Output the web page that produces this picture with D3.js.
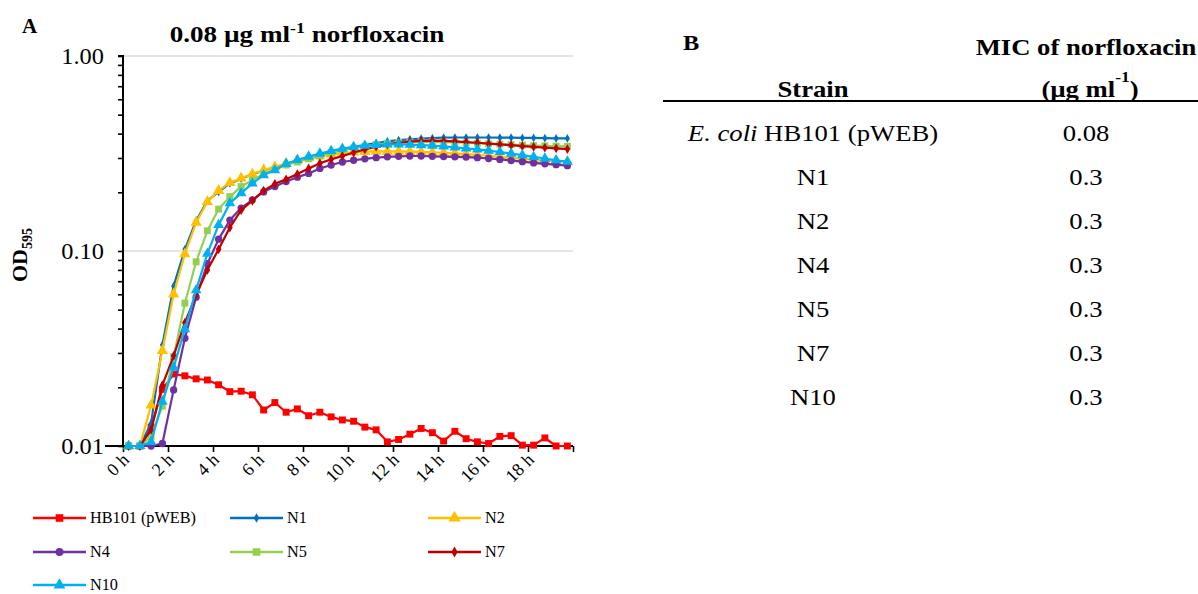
<!DOCTYPE html>
<html>
<head>
<meta charset="utf-8">
<script src="https://cdn.jsdelivr.net/npm/d3@7"></script>
<style>
  body { margin: 0; background: #fff; }
  text { font-family: "Liberation Serif", "Times New Roman", Times, serif; }
</style>
</head>
<body>
<div id="chart"></div>
<script>
// sampling times (h), one every 30 min
const hours = [0, 0.5, 1, 1.5, 2, 2.5, 3, 3.5, 4, 4.5, 5, 5.5, 6, 6.5, 7, 7.5, 8, 8.5, 9, 9.5,
  10, 10.5, 11, 11.5, 12, 12.5, 13, 13.5, 14, 14.5, 15, 15.5, 16, 16.5, 17, 17.5, 18, 18.5, 19, 19.5];
const tickHours = [0, 2, 4, 6, 8, 10, 12, 14, 16, 18, 20];
const tickLabels = ["0 h", "2 h", "4 h", "6 h", "8 h", "10 h", "12 h", "14 h", "16 h", "18 h", ""];

const hb101 = [0.01, 0.01, 0.0125, 0.0195, 0.0234, 0.0229, 0.0221, 0.0218, 0.0206, 0.019, 0.0191, 0.0183, 0.0153, 0.0167, 0.0149, 0.0155, 0.0143, 0.0149, 0.0141, 0.0136,
  0.0134, 0.0125, 0.0121, 0.0105, 0.0108, 0.0115, 0.0123, 0.0117, 0.0106, 0.0119, 0.0109, 0.0105, 0.0103, 0.0112, 0.0113, 0.0101, 0.0101, 0.011, 0.01, 0.01];
const n1 = [0.01, 0.01, 0.0131, 0.033, 0.066, 0.102, 0.143, 0.181, 0.201, 0.222, 0.235, 0.248, 0.258, 0.269, 0.279, 0.291, 0.303, 0.312, 0.322, 0.332,
  0.341, 0.35, 0.358, 0.365, 0.37, 0.374, 0.377, 0.379, 0.381, 0.382, 0.382, 0.382, 0.382, 0.381, 0.381, 0.38, 0.38, 0.379, 0.378, 0.378];
const n2 = [0.01, 0.01, 0.0162, 0.0308, 0.06, 0.0966, 0.14, 0.179, 0.204, 0.224, 0.236, 0.248, 0.26, 0.27, 0.281, 0.291, 0.3, 0.307, 0.313, 0.318,
  0.321, 0.323, 0.324, 0.324, 0.324, 0.323, 0.322, 0.321, 0.319, 0.317, 0.314, 0.311, 0.308, 0.304, 0.3, 0.297, 0.294, 0.291, 0.289, 0.287];
const n4 = [0.01, 0.01, 0.01, 0.0103, 0.0194, 0.0357, 0.058, 0.086, 0.115, 0.144, 0.166, 0.183, 0.201, 0.214, 0.227, 0.239, 0.25, 0.265, 0.276, 0.286,
  0.292, 0.297, 0.301, 0.304, 0.306, 0.307, 0.307, 0.306, 0.305, 0.304, 0.303, 0.301, 0.298, 0.295, 0.291, 0.287, 0.283, 0.28, 0.277, 0.274];
const n5 = [0.01, 0.01, 0.0112, 0.016, 0.0287, 0.054, 0.088, 0.127, 0.164, 0.19, 0.214, 0.231, 0.248, 0.262, 0.276, 0.286, 0.297, 0.307, 0.318, 0.328,
  0.337, 0.345, 0.352, 0.357, 0.36, 0.362, 0.363, 0.363, 0.362, 0.361, 0.359, 0.357, 0.355, 0.353, 0.351, 0.349, 0.347, 0.346, 0.345, 0.344];
const n7 = [0.01, 0.01, 0.0121, 0.0205, 0.029, 0.0429, 0.0595, 0.08, 0.102, 0.132, 0.162, 0.181, 0.204, 0.221, 0.233, 0.248, 0.265, 0.282, 0.295, 0.307,
  0.32, 0.332, 0.343, 0.352, 0.359, 0.364, 0.367, 0.368, 0.367, 0.365, 0.362, 0.359, 0.355, 0.352, 0.349, 0.345, 0.342, 0.339, 0.336, 0.333];
const n10 = [0.01, 0.01, 0.0105, 0.0169, 0.0253, 0.0397, 0.063, 0.097, 0.136, 0.176, 0.198, 0.222, 0.245, 0.26, 0.28, 0.293, 0.305, 0.316, 0.326, 0.335,
  0.342, 0.347, 0.35, 0.352, 0.352, 0.351, 0.349, 0.347, 0.344, 0.34, 0.336, 0.332, 0.327, 0.322, 0.316, 0.31, 0.304, 0.298, 0.292, 0.287];

const seriesNames = ["HB101 (pWEB)", "N1", "N2", "N4", "N5", "N7", "N10"];
const seriesValues = [hb101, n1, n2, n4, n5, n7, n10];
const seriesColors = ["#FF0000", "#0070C0", "#FFC000", "#7030A0", "#92D050", "#C00000", "#00B0F0"];
const seriesSymbols = [d3.symbolSquare, d3.symbolDiamond, d3.symbolTriangle, d3.symbolCircle, d3.symbolSquare, d3.symbolDiamond, d3.symbolTriangle];
const symbolSizes = [48, 22, 55, 42, 48, 28, 50];

const yTicks = [0.01, 0.1, 1];
const yTickLabels = ["0.01", "0.10", "1.00"];

// table B
const strains = ["HB101 (pWEB)", "N1", "N2", "N4", "N5", "N7", "N10"];
const mic = ["0.08", "0.3", "0.3", "0.3", "0.3", "0.3", "0.3"];

const W = 1198, H = 594;
const svg = d3.select("#chart").append("svg").attr("width", W).attr("height", H);

const pLeft = 123, pRight = 573, pTop = 56, pBottom = 446;

// horizontal stretch of a text around anchor x (the source figure is wider than plain Times)
function stretch(sel, sx, ax) {
  sel.attr("transform", `translate(${ax},0) scale(${sx},1) translate(${-ax},0)`);
}

const xBand = d3.scaleBand().domain(hours).range([pLeft, pRight]).padding(0);
const xTick = d3.scaleLinear().domain([0, 20]).range([pLeft, pRight]);
const y = d3.scaleLog().domain([0.01, 1]).range([pBottom, pTop]);

// gridlines
svg.append("g").selectAll("line")
  .data(yTicks.slice(1))
  .enter().append("line")
  .attr("x1", pLeft).attr("x2", pRight)
  .attr("y1", d => y(d)).attr("y2", d => y(d))
  .attr("stroke", "#e6e6e6").attr("stroke-width", 2);

// y axis, minor ticks on every decade
const minorTicks = y.ticks();
const yAxis = d3.axisLeft(y).tickValues(minorTicks).tickSize(5).tickFormat("");
const gy = svg.append("g").attr("transform", `translate(${pLeft},0)`).call(yAxis);
gy.select(".domain").attr("stroke-width", 2).attr("d", `M-5,${pTop}H0V${pBottom}`);
gy.selectAll(".tick line").attr("stroke-width", 1.6);
svg.append("g").selectAll("text")
  .data(yTicks)
  .enter().append("text")
  .attr("x", 104).attr("y", d => y(d) + 8)
  .attr("text-anchor", "end")
  .attr("font-size", 23)
  .text((d, i) => yTickLabels[i])
  .each(function () { stretch(d3.select(this), 1.06, 104); });

// x axis
const xAxis = d3.axisBottom(xTick).tickValues(tickHours).tickSize(6).tickFormat("");
const gx = svg.append("g").attr("transform", `translate(0,${pBottom})`).call(xAxis);
gx.select(".domain").attr("stroke-width", 2).attr("d", `M${pLeft - 18},0H${pRight}`);
gx.selectAll(".tick line").attr("stroke-width", 1.6);
svg.append("g").selectAll("text")
  .data(tickHours)
  .enter().append("text")
  .attr("transform", d => `translate(${xTick(d) + 7},${pBottom + 15}) rotate(-45)`)
  .attr("text-anchor", "end")
  .attr("font-size", 18)
  .text((d, i) => tickLabels[i]);

// curves
const line = d3.line()
  .x((d, i) => xBand(hours[i]) + xBand.bandwidth() / 2)
  .y(d => y(d));

seriesValues.forEach((vals, k) => {
  const g = svg.append("g");
  g.append("path")
    .datum(vals)
    .attr("d", line)
    .attr("fill", "none")
    .attr("stroke", seriesColors[k])
    .attr("stroke-width", 2.2)
    .attr("stroke-linejoin", "round");
  g.selectAll("path.m")
    .data(vals)
    .enter().append("path")
    .attr("class", "m")
    .attr("transform", (d, i) => `translate(${xBand(hours[i]) + xBand.bandwidth() / 2},${y(d)})`)
    .attr("d", d3.symbol().type(seriesSymbols[k]).size(symbolSizes[k]))
    .attr("fill", seriesColors[k]);
});

// y label
const yl = svg.append("text")
  .attr("transform", `translate(27,${(pTop + pBottom) / 2 + 4}) rotate(-90)`)
  .attr("text-anchor", "middle")
  .attr("font-size", 22).attr("font-weight", "bold");
yl.append("tspan").text("OD");
yl.append("tspan").attr("font-size", 14).attr("dy", 5).text("595");

// title and panel letters
svg.append("text").attr("x", 22).attr("y", 33).attr("font-size", 21).attr("font-weight", "bold").text("A");
const title = svg.append("text")
  .attr("x", 307).attr("y", 42)
  .attr("text-anchor", "middle")
  .attr("font-size", 23).attr("font-weight", "bold");
title.append("tspan").text("0.08 µg ml");
title.append("tspan").attr("font-size", 15).attr("dy", -9).text("-1");
title.append("tspan").attr("dy", 9).text(" norfloxacin");
stretch(title, 275 / title.node().getBBox().width, 307);

// legend
const legendCols = [33, 230, 428];
const legendRows = [518, 552, 585];
let legendScale = 1;
seriesNames.forEach((name, k) => {
  const lx = legendCols[k % 3], ly = legendRows[Math.floor(k / 3)];
  const g = svg.append("g");
  g.append("line")
    .attr("x1", lx).attr("x2", lx + 53)
    .attr("y1", ly).attr("y2", ly)
    .attr("stroke", seriesColors[k]).attr("stroke-width", 2.4);
  g.append("path")
    .attr("transform", `translate(${lx + 26.5},${ly})`)
    .attr("d", d3.symbol().type(seriesSymbols[k]).size(symbolSizes[k] * 1.2))
    .attr("fill", seriesColors[k]);
  const t = g.append("text")
    .attr("x", lx + 57).attr("y", ly + 5)
    .attr("font-size", 16)
    .text(name);
  if (k === 0) legendScale = 106 / t.node().getBBox().width;
  stretch(t, legendScale, lx + 57);
});

// table B
const c1 = 813, c2 = 1086, tableScale = 1.16;
const tableText = svg.append("g");
tableText.append("text").attr("x", 683).attr("y", 50).attr("font-size", 21).attr("font-weight", "bold").text("B");
tableText.append("text").attr("x", c2).attr("y", 55).attr("text-anchor", "middle")
  .attr("font-size", 23).attr("font-weight", "bold").text("MIC of norfloxacin");
const unit = tableText.append("text").attr("x", c2 + 4).attr("y", 97).attr("text-anchor", "middle")
  .attr("font-size", 23).attr("font-weight", "bold");
unit.append("tspan").text("(µg ml");
unit.append("tspan").attr("font-size", 15).attr("dy", -15).text("-1");
unit.append("tspan").attr("dy", 15).text(")");
tableText.append("text").attr("x", c1).attr("y", 97).attr("text-anchor", "middle")
  .attr("font-size", 23).attr("font-weight", "bold").text("Strain");
svg.append("line").attr("x1", 663).attr("x2", 1198).attr("y1", 101).attr("y2", 101)
  .attr("stroke", "#000").attr("stroke-width", 2);

const rowY = d3.scaleBand().domain(strains).range([111, 419]);
strains.forEach((s, i) => {
  const ty = rowY(s) + rowY.bandwidth() / 2 + 8;
  const t = tableText.append("text").attr("x", c1).attr("y", ty).attr("text-anchor", "middle").attr("font-size", 23);
  if (i === 0) {
    t.append("tspan").attr("font-style", "italic").text("E. coli");
    t.append("tspan").text(" " + s);
  } else {
    t.text(s);
  }
  tableText.append("text").attr("x", c2).attr("y", ty).attr("text-anchor", "middle").attr("font-size", 23).text(mic[i]);
});
tableText.selectAll("text").each(function () {
  const el = d3.select(this);
  stretch(el, tableScale, +el.attr("x"));
});
</script>
</body>
</html>
